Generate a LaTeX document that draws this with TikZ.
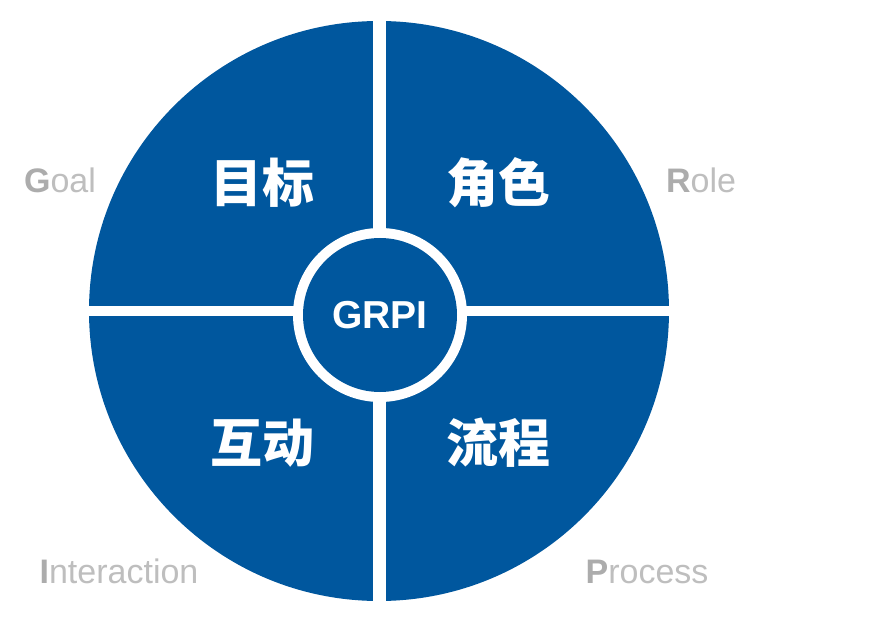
\documentclass[tikz,border=0pt]{standalone}
\usepackage{fontspec}
\setmainfont{Liberation Sans}
\newfontfamily\cjk{Noto Sans CJK SC}
\definecolor{grpiblue}{RGB}{0,87,158}
\definecolor{lblgray}{RGB}{190,190,190}
\definecolor{lblgrayd}{RGB}{172,172,172}
\begin{document}
\begin{tikzpicture}[x=1pt,y=-1pt,
  quad/.style={text=white,font=\cjk\bfseries\fontsize{52}{52}\selectfont,inner sep=0pt},
  lbl/.style={text=lblgray,font=\fontsize{34}{34}\selectfont,inner sep=0pt,anchor=base},
  sep/.style={fill=white,draw=none}]
\useasboundingbox (0,0) rectangle (878,628);
\fill[white] (0,0) rectangle (878,628);
\node[circle,fill=grpiblue,minimum size=580pt,inner sep=0pt] (disc) at (379,311) {};
\fill[sep] (372.5,14) rectangle (385.5,610);
\fill[sep] (80,306.5) rectangle (680,316.5);
\node[circle,fill=white,minimum size=174pt,inner sep=0pt] (ring) at (380,315) {};
\node[circle,fill=grpiblue,minimum size=154pt,inner sep=0pt,text=white,font=\bfseries\fontsize{39}{39}\selectfont] (core) at (380,315) {GRPI};
\node[quad] (g) at (262,183) {目标};
\node[quad] (r) at (498,183) {角色};
\node[quad] (i) at (262,443) {互动};
\node[quad] (p) at (498,443) {流程};
\node[lbl] (goal) at (60,193) {\textcolor{lblgrayd}{\bfseries G}oal};
\node[lbl] (role) at (701,193) {\textcolor{lblgrayd}{\bfseries R}ole};
\node[lbl] (inter) at (119,583) {\textcolor{lblgrayd}{\bfseries I}nteraction};
\node[lbl] (proc) at (647,583) {\textcolor{lblgrayd}{\bfseries P}rocess};
\end{tikzpicture}
\end{document}
